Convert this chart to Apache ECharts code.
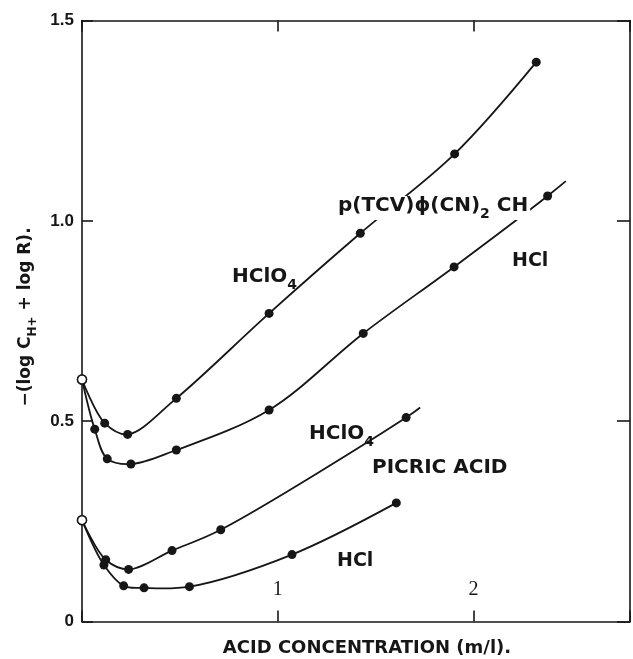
<!DOCTYPE html>
<html><head><meta charset="utf-8">
<script src="https://cdn.jsdelivr.net/npm/echarts@6/dist/echarts.min.js"></script>
<style>html,body{margin:0;padding:0;background:#fff}#c{width:633px;height:659px}</style>
</head><body><div id="c"></div>
<script>
// ---- data ----
const xTicks = [1, 2];
const yTicks = [0, 0.5, 1.0, 1.5];
const openPointUpper = [0, 0.604];
const openPointLower = [0, 0.253];
const tcvHClO4 = [[0.116,0.495],[0.233,0.467],[0.482,0.557],[0.956,0.769],[1.422,0.969],[1.904,1.167],[2.321,1.396]];
const tcvHCl = [[0.065,0.480],[0.129,0.406],[0.250,0.393],[0.482,0.428],[0.956,0.528],[1.437,0.719],[1.901,0.885],[2.379,1.062]];
const tcvHClEnd = [2.472, 1.099];
const picricHClO4 = [[0.121,0.154],[0.238,0.130],[0.460,0.177],[0.709,0.229],[1.656,0.509]];
const picricHClO4End = [1.728, 0.534];
const picricHCl = [[0.112,0.141],[0.213,0.089],[0.317,0.084],[0.549,0.087],[1.073,0.167],[1.606,0.296]];

const INK = '#161616';
const FONT = '"DejaVu Sans", sans-serif';

// centripetal Catmull-Rom path through pixel points
function splinePath(P) {
  const al = 0.5, eps = 1e-6;
  const dist = (a, b) => Math.hypot(b[0] - a[0], b[1] - a[1]);
  let d = 'M' + P[0][0] + ' ' + P[0][1];
  for (let i = 0; i < P.length - 1; i++) {
    const p0 = P[i - 1] || P[i], p1 = P[i], p2 = P[i + 1], p3 = P[i + 2] || P[i + 1];
    const l01 = dist(p0, p1), l12 = dist(p1, p2), l23 = dist(p2, p3);
    const l01a = Math.pow(l01, al), l12a = Math.pow(l12, al), l23a = Math.pow(l23, al);
    const l01_2a = l01a * l01a, l12_2a = l12a * l12a, l23_2a = l23a * l23a;
    let c1 = p1.slice(), c2 = p2.slice();
    if (l01a > eps) {
      const A = 2 * l01_2a + 3 * l01a * l12a + l12_2a, N = 3 * l01a * (l01a + l12a);
      c1 = [0, 1].map(k => (p1[k] * A - p0[k] * l12_2a + p2[k] * l01_2a) / N);
    }
    if (l23a > eps) {
      const B = 2 * l23_2a + 3 * l23a * l12a + l12_2a, M = 3 * l23a * (l23a + l12a);
      c2 = [0, 1].map(k => (p2[k] * B + p1[k] * l23_2a - p3[k] * l12_2a) / M);
    }
    d += ' C' + c1[0] + ' ' + c1[1] + ' ' + c2[0] + ' ' + c2[1] + ' ' + p2[0] + ' ' + p2[1];
  }
  return d;
}

function curveSeries(open, pts, end) {
  const all = [open].concat(pts, end ? [end] : []);
  return {
    type: 'custom', z: 2, silent: true, animation: false,
    data: all,
    renderItem: (params, api) => {
      if (params.dataIndex !== 0) return null;
      const px = all.map(p => api.coord(p));
      return { type: 'path', shape: { pathData: splinePath(px) },
        style: { fill: 'none', stroke: INK, lineWidth: 1.8 } };
    }
  };
}
function markerSeries(open, pts) {
  const data = [{ value: open, itemStyle: { color: '#fff', borderColor: INK, borderWidth: 1.5 } }]
    .concat(pts.map(p => ({ value: p })));
  return { type: 'scatter', z: 3, symbol: 'circle', symbolSize: 9, animation: false, silent: true,
    itemStyle: { color: INK, opacity: 1 }, data };
}

const chart = echarts.init(document.getElementById('c'), null, { renderer: 'canvas' });
const axisLine = { show: true, onZero: false, lineStyle: { color: INK, width: 1.6 } };
const tick = (len) => ({ show: true, inside: true, length: len, lineStyle: { color: INK, width: 1.6 } });

const sub = (size, pad) => ({ fontSize: size, fontWeight: 'bold', fontFamily: FONT, color: INK, lineHeight: size + 2, padding: [pad, 0, 0, 0], verticalAlign: 'top' });
const main = (size) => ({ fontSize: size, fontWeight: 'bold', fontFamily: FONT, color: INK, lineHeight: size + 4, verticalAlign: 'top' });

function label(x, y, text, size, extra) {
  return Object.assign({
    type: 'text', x, y, z: 100,
    style: Object.assign({
      text, fill: INK, fontSize: size, fontWeight: 'bold', fontFamily: FONT,
      textAlign: 'left', textVerticalAlign: 'middle',
      rich: { m: main(size), s: sub(Math.round(size * 0.7), Math.round(size * 0.55)) }
    }, extra || {})
  });
}

chart.setOption({
  animation: false,
  backgroundColor: '#fff',
  grid: { left: 82, top: 20.5, width: 555.8, height: 601 },
  xAxis: [
    { type: 'value', position: 'bottom', min: 0, max: 2.8, interval: 1,
      axisLine, axisTick: tick(11), splitLine: { show: false },
      axisLabel: { inside: true, margin: 22, color: INK, fontFamily: '"Liberation Serif", serif', fontSize: 20,
        formatter: v => xTicks.includes(v) ? String(v) : '' } },
    { type: 'value', position: 'top', min: 0, max: 2.8, interval: 1,
      axisLine, axisTick: tick(11), splitLine: { show: false }, axisLabel: { show: false } }
  ],
  yAxis: [
    { type: 'value', position: 'left', min: 0, max: 1.5, interval: 0.5,
      axisLine, axisTick: tick(11), splitLine: { show: false },
      axisLabel: { margin: 8, color: INK, fontFamily: '"Liberation Sans", sans-serif', fontSize: 17, fontWeight: 'bold',
        formatter: v => { const t = yTicks.find(k => Math.abs(k - v) < 1e-9); return t === undefined ? '' : (t === 0 ? '0' : t.toFixed(1)); } } },
    { type: 'value', position: 'right', min: 0, max: 1.5, interval: 0.5,
      axisLine, axisTick: tick(13), splitLine: { show: false }, axisLabel: { show: false } }
  ],
  series: [
    curveSeries(openPointUpper, tcvHClO4),
    curveSeries(openPointUpper, tcvHCl, tcvHClEnd),
    curveSeries(openPointLower, picricHClO4, picricHClO4End),
    curveSeries(openPointLower, picricHCl),
    markerSeries(openPointUpper, tcvHClO4),
    markerSeries(openPointUpper, tcvHCl),
    markerSeries(openPointLower, picricHClO4),
    markerSeries(openPointLower, picricHCl)
  ],
  graphic: [
    label(232, 267, '{m|HClO}{s|4}', 20, { textVerticalAlign: 'top' }),
    label(336, 196, '{m|p(TCV)ϕ(CN)}{s|2}{m| CH}', 20, { textVerticalAlign: 'top', backgroundColor: '#fff', padding: [0, 2, 0, 2] }),
    label(512, 261, 'HCl', 19),
    label(309, 424, '{m|HClO}{s|4}', 20, { textVerticalAlign: 'top' }),
    label(372, 468, 'PICRIC ACID', 20),
    label(337, 561, 'HCl', 19),
    { type: 'text', x: 367, y: 648, z: 100,
      style: { text: 'ACID CONCENTRATION (m/l).', fill: INK, fontSize: 18, fontWeight: 'bold', fontFamily: FONT, textAlign: 'center', textVerticalAlign: 'middle' } },
    { type: 'text', x: 17, y: 317, rotation: Math.PI / 2, z: 100,
      style: { text: '{m|−(log C}{s|H+}{m| + log R).}', fill: INK, fontSize: 17, fontWeight: 'bold', fontFamily: FONT,
        textAlign: 'center', textVerticalAlign: 'top',
        rich: { m: main(17), s: sub(12, 10) } } }
  ]
});
</script></body></html>
